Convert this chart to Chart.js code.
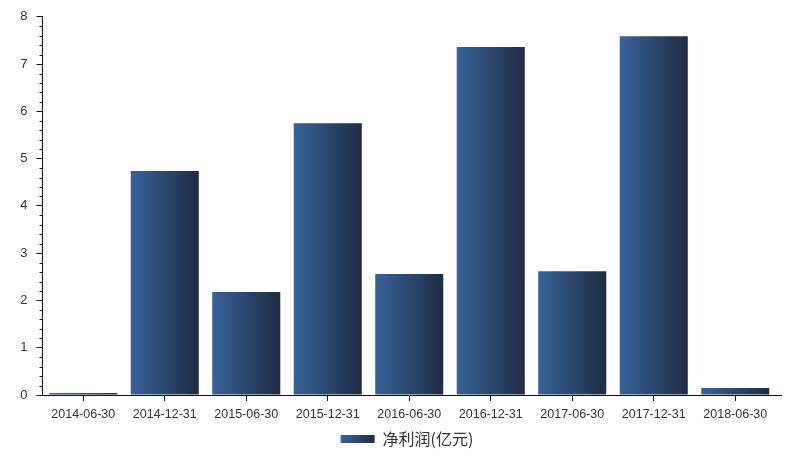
<!DOCTYPE html>
<html>
<head>
<meta charset="utf-8">
<script src="https://cdn.jsdelivr.net/npm/chart.js@4"></script>
<style>
  html, body { margin: 0; padding: 0; background: #fff; }
  #wrap { width: 804px; height: 461px; }
</style>
</head>
<body>
<div id="wrap"><canvas id="c" width="804" height="461"></canvas></div>
<script>
const categories = ['2014-06-30','2014-12-31','2015-06-30','2015-12-31','2016-06-30','2016-12-31','2017-06-30','2017-12-31','2018-06-30'];
const netProfit = [0.04, 4.74, 2.18, 5.75, 2.56, 7.36, 2.62, 7.59, 0.15];
const seriesName = '净利润(亿元)';
const yMin = 0, yMax = 8, yStep = 1, yMinorStep = 0.2;

const COL_L = '#37639a';
const COL_R = '#1f2c43';
const BAR_PCT = 0.835;

function barGradient(ctx) {
  const chart = ctx.chart;
  const xs = chart.scales && chart.scales.x;
  if (ctx.dataIndex === undefined || !xs || !chart.chartArea) return '#2c4a72';
  const cx = xs.getPixelForValue(ctx.dataIndex);
  const w = (chart.chartArea.width / categories.length) * BAR_PCT;
  if (!isFinite(cx) || !isFinite(w)) return '#2c4a72';
  const g = chart.ctx.createLinearGradient(cx - w / 2, 0, cx + w / 2, 0);
  g.addColorStop(0, COL_L);
  g.addColorStop(1, COL_R);
  return g;
}

const decor = {
  id: 'decor',
  beforeDraw(chart) {
    const lg = chart.legend;
    if (lg && lg.legendHitBoxes && lg.legendHitBoxes[0] && lg.legendItems && lg.legendItems[0]) {
      const hb = lg.legendHitBoxes[0];
      const g = chart.ctx.createLinearGradient(hb.left, 0, hb.left + lg.options.labels.boxWidth, 0);
      g.addColorStop(0, COL_L);
      g.addColorStop(1, COL_R);
      lg.legendItems[0].fillStyle = g;
    }
  },
  afterDraw(chart) {
    const y = chart.scales.y, x = chart.scales.x;
    const c = chart.ctx;
    c.save();
    c.strokeStyle = '#111';
    c.lineWidth = 1;
    const ax = Math.round(y.right) - 0.5;
    c.beginPath();
    for (let v = yMin; v <= yMax + 1e-9; v += yMinorStep) {
      const r = Math.round(v * 10) / 10;
      if (Math.abs(r - Math.round(r)) < 1e-6) continue;
      const py = Math.round(y.getPixelForValue(r)) + 0.5;
      c.moveTo(ax - 3, py);
      c.lineTo(ax, py);
    }
    const by = Math.round(x.top) + 0.5;
    c.moveTo(chart.chartArea.right, by);
    c.lineTo(chart.chartArea.right + 6, by);
    c.stroke();
    c.restore();
  }
};

new Chart(document.getElementById('c'), {
  type: 'bar',
  data: {
    labels: categories,
    datasets: [{
      label: seriesName,
      data: netProfit,
      backgroundColor: barGradient,
      borderWidth: 0,
      barPercentage: BAR_PCT,
      categoryPercentage: 1.0
    }]
  },
  options: {
    responsive: false,
    animation: false,
    devicePixelRatio: 1,
    layout: { padding: { left: 10, right: 0, top: 10, bottom: 4 } },
    plugins: {
      tooltip: { enabled: false },
      legend: {
        position: 'bottom',
        labels: {
          boxWidth: 34,
          boxHeight: 8,
          padding: 4,
          color: '#333',
          font: { family: '"Noto Sans CJK SC", "Liberation Sans", sans-serif', size: 16 }
        }
      }
    },
    scales: {
      x: {
        offset: true,
        afterFit(scale) { scale.height = 32; },
        grid: { display: true, drawOnChartArea: false, offset: false, tickLength: 6, tickColor: '#111' },
        border: { display: true, color: '#111', width: 1 },
        ticks: {
          color: '#333', padding: 6, maxRotation: 0, autoSkip: false,
          font: { family: '"Liberation Sans", Arial, sans-serif', size: 12.5 }
        }
      },
      y: {
        min: yMin, max: yMax,
        afterFit(scale) { scale.width = 32.5; },
        grid: { display: true, drawOnChartArea: false, tickLength: 6, tickColor: '#111' },
        border: { display: true, color: '#111', width: 1 },
        ticks: {
          stepSize: yStep, color: '#333', padding: 9,
          font: { family: '"Liberation Sans", Arial, sans-serif', size: 13 }
        }
      },
      spacer: {
        type: 'linear',
        position: 'right',
        display: true,
        afterFit(scale) { scale.width = 28; },
        grid: { display: false },
        border: { display: false },
        ticks: { display: false }
      }
    }
  },
  plugins: [decor]
});
</script>
</body>
</html>
